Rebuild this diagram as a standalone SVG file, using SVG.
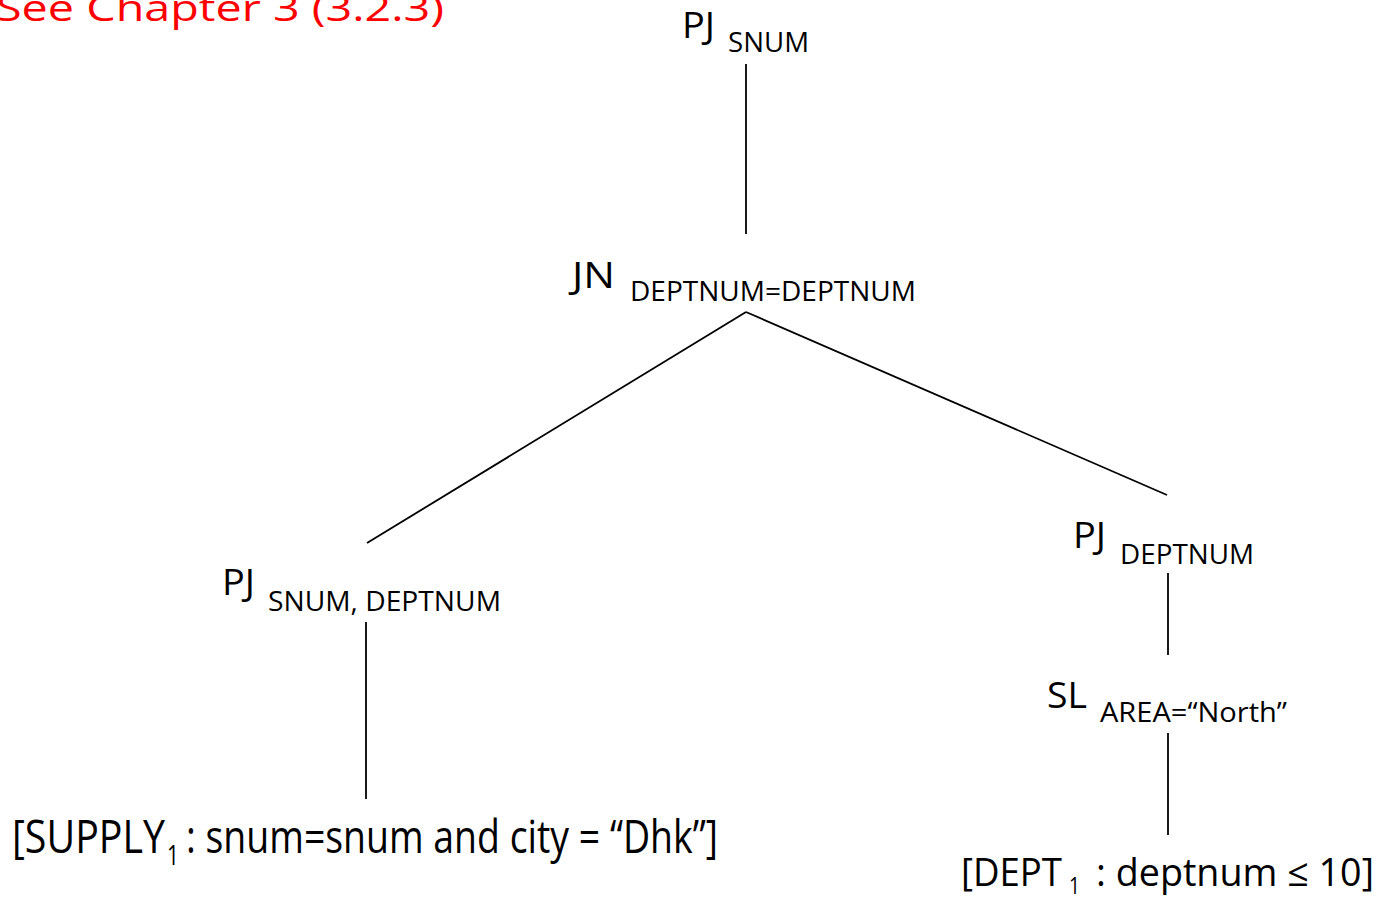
<svg xmlns="http://www.w3.org/2000/svg" width="1378" height="900" viewBox="0 0 1378 900">
  <style>
    text { font-family: "Open Sans", "Noto Sans", "Liberation Sans", sans-serif; fill: #000; }
    .title { fill: #ff0000; font-size: 37px; }
    .op { font-size: 37px; }
    .sub { font-size: 27px; }
    .leaf { font-size: 45px; }
    .leafR { font-size: 38px; }
    .idx { font-size: 27px; }
    .idxR { font-size: 23px; }
    .edge { stroke: #000; stroke-width: 1.8; fill: none; stroke-linecap: butt; }
  </style>
  <rect width="1378" height="900" fill="#fff"/>

  <text class="title" x="-4" y="21" textLength="448" lengthAdjust="spacingAndGlyphs">See Chapter 3 (3.2.3)</text>

  <!-- tree edges -->
  <g id="connectors">
    <line class="edge" x1="746" y1="64" x2="746" y2="234"/>
    <line class="edge" x1="746" y1="312" x2="367" y2="543"/>
    <line class="edge" x1="746" y1="312" x2="1167" y2="495"/>
    <line class="edge" x1="366" y1="622" x2="366" y2="799"/>
    <line class="edge" x1="1168" y1="573" x2="1168" y2="655"/>
    <line class="edge" x1="1168" y1="733" x2="1168" y2="835"/>
  </g>

  <!-- root projection -->
  <g id="pj-snum">
    <text class="op" x="682" y="38" textLength="33" lengthAdjust="spacingAndGlyphs">PJ</text>
    <text class="sub" x="728" y="52" textLength="81" lengthAdjust="spacingAndGlyphs">SNUM</text>
  </g>

  <!-- join -->
  <g id="jn">
    <text class="op" x="572" y="288" textLength="43" lengthAdjust="spacingAndGlyphs">JN</text>
    <text class="sub" x="630" y="301" textLength="286" lengthAdjust="spacingAndGlyphs">DEPTNUM=DEPTNUM</text>
  </g>

  <!-- left projection -->
  <g id="pj-snum-deptnum">
    <text class="op" x="222" y="595" textLength="33" lengthAdjust="spacingAndGlyphs">PJ</text>
    <text class="sub" x="268" y="611" textLength="233" lengthAdjust="spacingAndGlyphs">SNUM, DEPTNUM</text>
  </g>

  <!-- right projection -->
  <g id="pj-deptnum">
    <text class="op" x="1073" y="548" textLength="33" lengthAdjust="spacingAndGlyphs">PJ</text>
    <text class="sub" x="1120" y="564" textLength="134" lengthAdjust="spacingAndGlyphs">DEPTNUM</text>
  </g>

  <!-- selection -->
  <g id="sl-area">
    <text class="op" x="1047" y="708" textLength="40" lengthAdjust="spacingAndGlyphs">SL</text>
    <text class="sub" x="1100" y="722" textLength="187" lengthAdjust="spacingAndGlyphs">AREA=“North”</text>
  </g>

  <!-- leaf: SUPPLY fragment -->
  <g id="supply1">
    <text class="leaf" x="12" y="853" textLength="153" lengthAdjust="spacingAndGlyphs">[SUPPLY</text>
    <text class="idx" x="167" y="865" textLength="12" lengthAdjust="spacingAndGlyphs">1</text>
    <text class="leaf" x="186" y="853" textLength="532" lengthAdjust="spacingAndGlyphs">: snum=snum and city = “Dhk”]</text>
  </g>

  <!-- leaf: DEPT fragment -->
  <g id="dept1">
    <text class="leafR" x="961" y="886" textLength="101" lengthAdjust="spacingAndGlyphs">[DEPT</text>
    <text class="idxR" x="1069" y="894" textLength="11" lengthAdjust="spacingAndGlyphs">1</text>
    <text class="leafR" x="1096" y="886" textLength="278" lengthAdjust="spacingAndGlyphs">: deptnum ≤ 10]</text>
  </g>
</svg>
